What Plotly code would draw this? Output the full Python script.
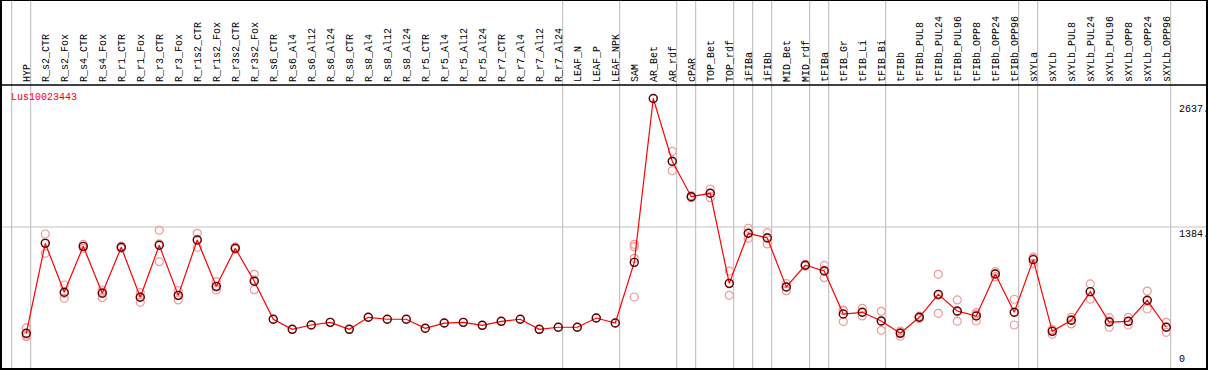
import numpy as np
import plotly.graph_objects as go

gene_id = "Lus10023443"

samples = ["HYP",
    "R_s2_CTR", "R_s2_Fox", "R_s4_CTR", "R_s4_Fox", "R_r1_CTR", "R_r1_Fox", "R_r3_CTR", "R_r3_Fox",
    "R_r1s2_CTR", "R_r1s2_Fox", "R_r3s2_CTR", "R_r3s2_Fox",
    "R_s6_CTR", "R_s6_Al4", "R_s6_Al12", "R_s6_Al24", "R_s8_CTR", "R_s8_Al4", "R_s8_Al12", "R_s8_Al24",
    "R_r5_CTR", "R_r5_Al4", "R_r5_Al12", "R_r5_Al24", "R_r7_CTR", "R_r7_Al4", "R_r7_Al12", "R_r7_Al24",
    "LEAF_N", "LEAF_P", "LEAF_NPK",
    "SAM", "AR_Bet", "AR_rdf",
    "cPAR",
    "TOP_Bet", "TOP_rdf",
    "iFIBa",
    "iFIBb",
    "MID_Bet", "MID_rdf",
    "tFIBa",
    "tFIB_Gr", "tFIB_Li", "tFIB_Bi",
    "tFIBb", "tFIBb_PUL8", "tFIBb_PUL24", "tFIBb_PUL96", "tFIBb_OPP8", "tFIBb_OPP24", "tFIBb_OPP96",
    "sXYLa",
    "sXYLb", "sXYLb_PUL8", "sXYLb_PUL24", "sXYLb_PUL96", "sXYLb_OPP8", "sXYLb_OPP24", "sXYLb_OPP96"]

group_sizes = [1, 28, 3, 3, 1, 2, 1, 1, 2, 1, 3, 7, 1, 7]

means = [348,
    1225, 748, 1196, 738, 1187, 699, 1206, 718, 1258, 806, 1177, 855,
    485, 387, 429, 455, 387, 504, 485, 485, 397, 448, 455, 426, 465, 485, 387, 407,
    407, 497, 448,
    1040, 2637, 2025,
    1680,
    1713, 835,
    1323,
    1277,
    800, 1011,
    955,
    536, 553, 468,
    348, 504, 728, 565, 517, 926, 553,
    1066,
    367, 475, 754, 458, 465, 670, 407]

replicates = [[400, 330, 315],
    [1316, 1231, 1128], [819, 736, 689], [1215, 1196, 1177], [770, 750, 695],
    [1197, 1187, 1177], [744, 703, 650], [1352, 1220, 1046], [764, 718, 673],
    [1323, 1264, 1187], [851, 797, 770], [1190, 1177, 1165], [923, 869, 773],
    [485], [387], [429], [455], [387], [504], [485], [485],
    [397], [448], [455], [426], [465], [485], [387], [407],
    [407], [497], [448],
    [1216, 1193, 1079, 702], [2637], [2122, 2020, 1933],
    [1690, 1680, 1670],
    [1755, 1713, 1670], [955, 832, 718],
    [1372, 1323, 1274],
    [1329, 1283, 1219],
    [832, 800, 764], [1020, 1011, 1002],
    [1011, 964, 890],
    [575, 570, 462], [592, 550, 517], [562, 465, 377],
    [370, 355, 320], [515, 504, 493], [923, 718, 543], [673, 557, 465], [549, 534, 468], [949, 929, 900], [680, 550, 429],
    [1090, 1078, 1030],
    [387, 376, 338], [504, 482, 439], [829, 751, 682], [500, 467, 407], [504, 462, 429], [760, 665, 585], [455, 408, 358]]

x_idx = list(range(len(samples)))
ymax = max(means)
ytop = ymax * 1.05
ymid = ytop / 2

W, H = 1209, 370
ML, MR, MT, MB = 1, 2, 85, 1
plot_w = W - ML - MR
plot_h = H - MT - MB
top_ext = 1 + MT / plot_h

fig = go.Figure()

# replicate points
rx, ry = [], []
for i, reps in enumerate(replicates):
    for v in reps:
        rx.append(i)
        ry.append(v)
fig.add_trace(go.Scatter(x=rx, y=ry, mode="markers", hoverinfo="skip",
                         marker=dict(symbol="circle-open", size=8, color="#f19a9a",
                                     line=dict(width=1.2, color="#f19a9a")),
                         showlegend=False))

fig.add_trace(go.Scatter(x=x_idx, y=means, mode="lines+markers",
                         line=dict(color="#ff0000", width=1.2),
                         marker=dict(symbol="circle-open", size=8, color="#5a0000",
                                     line=dict(width=1.4, color="#5a0000")),
                         showlegend=False))

shapes = []
# group separators
bounds = [-1] + list(np.cumsum(group_sizes) - 1)
for b in bounds:
    shapes.append(dict(type="line", xref="x", yref="paper", x0=b + 0.23, x1=b + 0.23,
                       y0=0, y1=top_ext, line=dict(color="#c4c4c4", width=1.2), layer="below"))
# midline grid
shapes.append(dict(type="line", xref="paper", yref="y", x0=0, x1=1, y0=ymid, y1=ymid,
                   line=dict(color="#c4c4c4", width=1.2), layer="below"))
# frame
shapes.append(dict(type="rect", xref="paper", yref="paper", x0=0, x1=1, y0=0, y1=top_ext,
                   line=dict(color="black", width=2)))
shapes.append(dict(type="line", xref="paper", yref="paper", x0=0, x1=1, y0=1, y1=1,
                   line=dict(color="black", width=1.5)))

mono = "Liberation Mono"
lab_x = (1177 - ML) / plot_w
annotations = [
    dict(text=gene_id, xref="paper", yref="paper", x=8 / plot_w, y=1 - 5 / plot_h,
         xanchor="left", yanchor="top", showarrow=False, font=dict(family=mono, size=10, color="red")),
    dict(text=f"{int(ymax)}.", xref="paper", yref="y", x=lab_x, y=ymax,
         xanchor="left", yanchor="top", yshift=-3, showarrow=False, font=dict(family=mono, size=10, color="black")),
    dict(text=f"{int(ymid)}.", xref="paper", yref="y", x=lab_x, y=ymid,
         xanchor="left", yanchor="top", yshift=0, showarrow=False, font=dict(family=mono, size=10, color="black")),
    dict(text="0", xref="paper", yref="y", x=lab_x, y=0,
         xanchor="left", yanchor="bottom", yshift=2, showarrow=False, font=dict(family=mono, size=10, color="black")),
]

fig.update_layout(
    width=W, height=H,
    margin=dict(l=ML, r=MR, t=MT, b=MB, pad=0),
    paper_bgcolor="white", plot_bgcolor="white",
    shapes=shapes, annotations=annotations,
    xaxis=dict(side="top", range=[-1.33, -1.33 + plot_w / 19.0],
               tickmode="array", tickvals=x_idx, ticktext=samples, tickangle=-90,
               tickfont=dict(family=mono, size=10, color="black"), ticklabelstandoff=2,
               showgrid=False, zeroline=False, showline=False, ticks="", ticklen=0),
    yaxis=dict(range=[0, ytop], showticklabels=False, showgrid=False, zeroline=False,
               showline=False, ticks=""),
)

fig.write_html("out.html", config={"displayModeBar": False},
               post_script="document.body.style.margin='0';document.body.style.padding='0';document.body.style.overflow='hidden';")
